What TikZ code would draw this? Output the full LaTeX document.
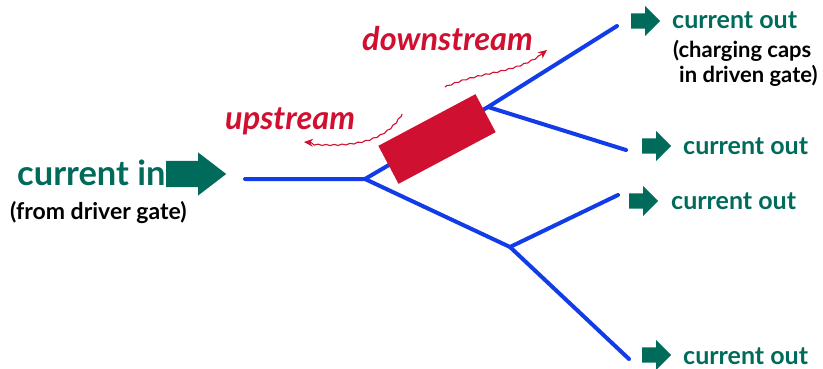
\documentclass[tikz,border=0pt]{standalone}
\usepackage{fontspec}
\setmainfont{Lato}
\usepackage{tikz}
\usetikzlibrary{shapes,arrows.meta,positioning}
\usetikzlibrary{decorations.pathmorphing}
\definecolor{wireblue}{RGB}{18,60,232}
\definecolor{gatered}{RGB}{208,16,48}
\definecolor{curgreen}{RGB}{0,107,90}
\tikzset{
  wire/.style={wireblue,line width=4pt,line cap=round},
  bigarrow/.style={single arrow,fill=curgreen,draw=none,inner xsep=0pt,inner ysep=11pt,
    minimum height=60pt,minimum width=43pt,
    single arrow tip angle=75,anchor=west},
  smallarrow/.style={single arrow,fill=curgreen,draw=none,inner xsep=0pt,inner ysep=7pt,
    minimum height=29pt,minimum width=30pt,
    anchor=west},
  curtext/.style={curgreen,inner sep=0pt,anchor=base west,font=\bfseries\fontsize{25}{28}\selectfont},
  notetext/.style={black,inner sep=0pt,anchor=base west,font=\bfseries\fontsize{23}{26}\selectfont},
  dirtext/.style={gatered,inner sep=0pt,anchor=base west,font=\bfseries\itshape\fontsize{32.5}{36}\selectfont},
  squiggle/.style={gatered,line width=1.1pt,decorate,
    decoration={snake,amplitude=.6pt,segment length=8pt,post length=5pt},
    -{Stealth[length=9pt,width=8pt]}}
}

\begin{document}
\begin{tikzpicture}[x=1pt,y=-1pt]
        \useasboundingbox (0,0) rectangle (823,369);
        % wire tree
        \coordinate (src) at (245,179);
        \coordinate (j1) at (365,179);
        \coordinate (j2) at (488,107);
        \coordinate (j3) at (510,247);
        \coordinate (o1) at (617,26);
        \coordinate (o2) at (626,150);
        \coordinate (o3) at (618,195);
        \coordinate (o4) at (629,359);
        \draw[wire] (src) -- (j1) -- (j2) -- (o1);
        \draw[wire] (j2) -- (o2);
        \draw[wire] (j1) -- (j3) -- (o3);
        \draw[wire] (j3) -- (o4);
        \node[fill=gatered,minimum width=110pt,minimum height=43pt,rotate=28] (gate) at (437,139) {};

        % input side
        \node[bigarrow] (inarrow) at (166,174) {};
        \node[curtext,font=\bfseries\fontsize{34.5}{38}\selectfont] (curin) at (17,185) {current in};
        \node[notetext] (drv) at (10,219) {(from driver gate)};

        % outputs
        \node[smallarrow] (arr1) at (631,21) {};
        \node[smallarrow] (arr2) at (642,146) {};
        \node[smallarrow] (arr3) at (629,201) {};
        \node[smallarrow] (arr4) at (642,355) {};
        \node[curtext] (out1) at (672,29) {current out};
        \node[notetext,font=\bfseries\fontsize{22}{26}\selectfont] (caps) at (673,58) {(charging caps};
        \node[notetext,font=\bfseries\fontsize{22}{26}\selectfont] (drvn) at (679,83) {in driven gate)};
        \node[curtext] (out2) at (683,154) {current out};
        \node[curtext] (out3) at (671,209) {current out};
        \node[curtext] (out4) at (683,364) {current out};

        % directions
        \node[dirtext] (down) at (362,51) {downstream};
        \node[dirtext] (up) at (225,129) {upstream};
        \coordinate (dsrc) at (445,87);
        \coordinate (dtip) at (547,50);
        \coordinate (usrc) at (402,114);
        \coordinate (utip) at (304,142);
        \draw[squiggle] (dsrc) .. controls (485,70) and (515,76) .. (dtip);
        \draw[squiggle] (usrc) .. controls (385,142) and (350,146) .. (utip);
\end{tikzpicture}
\end{document}
